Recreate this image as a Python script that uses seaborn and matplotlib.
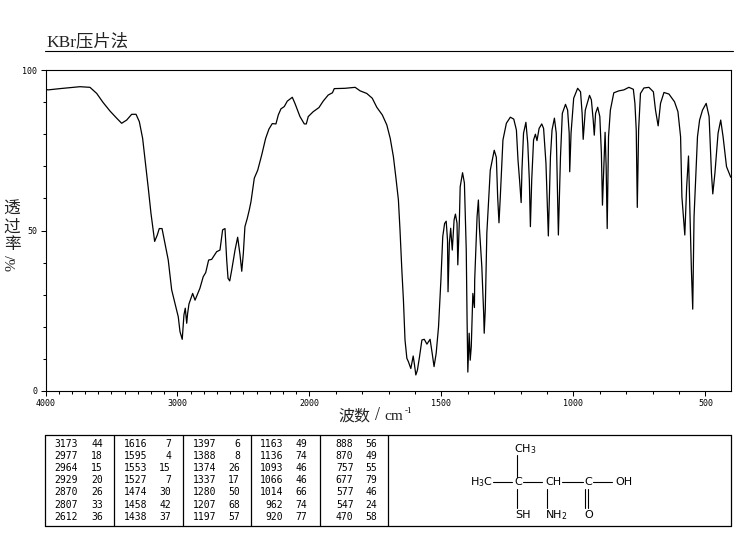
"""
Espectro IR (KBr) con tabla de picos y estructura
"""

import numpy as np
import pandas as pd
import matplotlib
matplotlib.use('Agg')
import matplotlib.pyplot as plt
from matplotlib.lines import Line2D
from matplotlib.ticker import FixedLocator, FixedFormatter
import seaborn as sns

W, H = 737, 539

# curva: numero de onda y transmitancia
wavenumber = [
    4000, 3981, 3890, 3739, 3663, 3612, 3564, 3511, 3461, 3423, 3385, 3347, 3314, 3289, 3264, 3241,
    3221, 3201, 3183, 3173, 3153, 3138, 3117, 3095, 3070, 3044, 3019, 2994, 2981, 2964, 2951, 2941,
    2930, 2923, 2913, 2885, 2867, 2830, 2805, 2786, 2764, 2741, 2703, 2678, 2658, 2640, 2627, 2617,
    2604, 2589, 2564, 2544, 2526, 2513, 2501, 2489, 2471, 2456, 2443, 2418, 2392, 2362, 2332, 2307,
    2282, 2254, 2236, 2216, 2191, 2168, 2130, 2110, 2072, 2039, 2024, 2009, 1986, 1964, 1948, 1929,
    1913, 1906, 1865, 1827, 1808, 1783, 1762, 1745, 1724, 1707, 1694, 1682, 1673, 1663, 1657, 1650,
    1644, 1638, 1631, 1625, 1616, 1607, 1602, 1597, 1591, 1583, 1574, 1565, 1555, 1543, 1535, 1528,
    1520, 1511, 1502, 1495, 1488, 1482, 1477, 1475, 1470, 1465, 1459, 1452, 1447, 1441, 1438, 1432,
    1429, 1420, 1413, 1406, 1403, 1400, 1395, 1391, 1387, 1381, 1375, 1374, 1365, 1360, 1356, 1347,
    1340, 1338, 1334, 1328, 1321, 1315, 1300, 1292, 1287, 1282, 1277, 1267, 1254, 1239, 1226, 1216,
    1210, 1204, 1198, 1195, 1189, 1180, 1173, 1167, 1163, 1158, 1151, 1144, 1138, 1130, 1120, 1113,
    1104, 1095, 1087, 1081, 1072, 1065, 1057, 1049, 1042, 1030, 1022, 1016, 1014, 1009, 999, 984,
    973, 967, 963, 955, 939, 932, 925, 921, 916, 908, 900, 894, 890, 885, 880, 876,
    872, 867, 860, 847, 828, 809, 790, 773, 767, 762, 758, 753, 746, 733, 714, 697,
    689, 679, 670, 657, 638, 617, 604, 594, 589, 578, 571, 564, 558, 553, 548, 543,
    530, 522, 511, 497, 486, 477, 472, 464, 452, 442, 433, 420, 404,
]
transmittance = [
    94.0, 93.8, 94.2, 94.8, 94.6, 92.7, 89.9, 87.2, 85.0, 83.4, 84.4, 86.2, 86.2, 83.9, 78.7, 70.4,
    63.1, 55.4, 49.6, 46.6, 48.6, 50.6, 50.6, 46.0, 40.8, 31.5, 27.3, 23.1, 18.5, 16.1, 23.7, 25.8,
    21.1, 24.2, 27.1, 30.4, 28.3, 32.0, 35.6, 36.9, 40.8, 41.0, 43.4, 43.9, 50.2, 50.6, 40.8, 35.1,
    34.3, 37.7, 43.9, 47.9, 42.4, 37.3, 42.9, 51.2, 53.8, 56.4, 59.0, 66.3, 68.8, 73.5, 78.7, 81.6,
    83.3, 83.2, 86.0, 87.9, 88.6, 90.3, 91.5, 89.6, 85.5, 83.2, 83.2, 85.5, 87.0, 88.3, 90.3, 92.2,
    92.9, 94.2, 94.3, 94.6, 93.5, 92.7, 91.2, 88.4, 86.0, 82.9, 78.7, 73.0, 66.8, 59.5, 50.2, 37.7,
    28.3, 15.9, 10.2, 9.1, 7.0, 10.9, 8.1, 5.0, 6.5, 10.7, 15.9, 16.1, 14.6, 16.1, 11.7, 7.6,
    11.7, 20.0, 34.6, 48.1, 52.2, 52.9, 47.0, 30.9, 46.0, 50.7, 43.9, 53.3, 55.1, 52.3, 39.3, 53.3,
    63.6, 68.0, 64.8, 43.9, 23.0, 5.9, 18.0, 9.6, 13.8, 30.4, 26.0, 34.6, 54.3, 59.5, 50.7, 38.7,
    24.2, 18.0, 25.2, 49.2, 59.5, 68.8, 75.0, 72.8, 60.5, 52.4, 60.5, 78.2, 83.4, 85.3, 84.7, 81.3,
    72.0, 65.7, 58.7, 68.8, 80.3, 83.7, 77.2, 65.7, 51.2, 65.7, 78.2, 80.0, 78.0, 81.8, 83.2, 81.8,
    70.9, 48.3, 73.0, 81.3, 85.0, 80.3, 48.6, 73.0, 86.5, 89.3, 87.5, 80.3, 68.3, 80.3, 91.2, 94.3,
    93.2, 86.5, 78.4, 87.5, 92.1, 90.7, 84.4, 79.7, 86.5, 88.4, 85.5, 74.0, 57.9, 68.8, 80.6, 69.9,
    50.6, 79.2, 87.5, 92.9, 93.5, 93.8, 94.6, 94.0, 89.6, 81.3, 57.2, 81.3, 92.7, 94.4, 94.6, 93.2,
    87.5, 82.6, 89.6, 93.0, 92.5, 90.1, 87.0, 79.2, 60.5, 48.6, 63.6, 73.2, 54.3, 37.7, 25.5, 54.3,
    79.2, 84.4, 87.5, 89.6, 85.5, 67.8, 61.4, 67.8, 80.3, 84.4, 79.2, 69.9, 66.6,
]

# tabla de picos, una lista por columna
peak_wn_cols = [
    [3173, 2977, 2964, 2929, 2870, 2807, 2612],
    [1616, 1595, 1553, 1527, 1474, 1458, 1438],
    [1397, 1388, 1374, 1337, 1280, 1207, 1197],
    [1163, 1136, 1093, 1066, 1014, 962, 920],
    [888, 870, 757, 677, 577, 547, 470],
]
peak_t_cols = [
    [44, 18, 15, 20, 26, 33, 36],
    [7, 4, 15, 7, 30, 42, 37],
    [6, 8, 26, 17, 50, 68, 57],
    [49, 74, 46, 46, 66, 74, 77],
    [56, 49, 55, 79, 46, 24, 58],
]

major_x = [4000, 3000, 2000, 1500, 1000, 500]
major_x_labels = ['4000', '3000', '2000', '1500', '1000', '500']
minor_x = [w for w in range(500, 4000, 100) if w not in major_x]
major_y = [0, 50, 100]
major_y_labels = ['0', '50', '100']


def forward(w):
    # escala partida: debajo de 2000 el eje va al doble
    w = np.asarray(w, dtype=float)
    return np.where(w >= 2000, w - 2000, (w - 2000) * 2)


def inverse(v):
    v = np.asarray(v, dtype=float)
    return np.where(v >= 0, v + 2000, v / 2 + 2000)


def px(x, y):
    return x / W, 1 - y / H


def fig_line(fig, x0, y0, x1, y1, lw=0.8):
    xa, ya = px(x0, y0)
    xb, yb = px(x1, y1)
    fig.add_artist(Line2D([xa, xb], [ya, yb], color='black', lw=lw))


def fig_text(fig, x, y, s, **kw):
    xa, ya = px(x, y)
    kw.setdefault('color', 'black')
    kw.setdefault('va', 'center')
    fig.text(xa, ya, s, **kw)


sns.set_theme(style='ticks')
plt.rcParams['font.family'] = ['DejaVu Sans', 'Noto Sans CJK SC']
plt.rcParams['mathtext.default'] = 'regular'

fig = plt.figure(figsize=(W / 100, H / 100), dpi=100)
ax = fig.add_axes([45.5 / W, 1 - 391 / H, 685.5 / W, 321 / H])

df = pd.DataFrame({'wn': wavenumber, 't': transmittance})
sns.lineplot(data=df, x='wn', y='t', sort=False, estimator=None, color='black', lw=0.9, ax=ax)

ax.set_xscale('function', functions=(forward, inverse))
ax.set_xlim(4000, 403)
ax.set_ylim(0, 100)
ax.set_xlabel('')
ax.set_ylabel('')

ax.set_xticks(major_x, major_x_labels)
ax.set_xticks(minor_x, minor=True)
ax.yaxis.set_major_locator(FixedLocator(major_y))
ax.yaxis.set_major_formatter(FixedFormatter(major_y_labels))
ax.yaxis.set_minor_locator(FixedLocator(list(range(0, 101, 10))))
ax.tick_params(which='major', bottom=True, left=True, length=3.6, width=0.75, pad=2.5,
               labelsize=6, colors='black')
ax.tick_params(which='minor', bottom=True, left=True, length=2, width=0.75, color='black')
for lab in ax.get_xticklabels() + ax.get_yticklabels():
    lab.set_family('DejaVu Sans Mono')
for sp in ax.spines.values():
    sp.set_visible(True)
    sp.set_color('black')
    sp.set_linewidth(0.8)

# titulo y subrayado
fig_text(fig, 46, 42, 'KBr压片法', fontsize=12.5, color='#222222',
         family=['Liberation Serif', 'Noto Sans CJK SC'])
fig_line(fig, 45, 50.5, 733, 50.5)

# etiquetas de ejes
fig_text(fig, 338, 416, '波数', fontsize=11.5, color='#222222', family='Noto Sans CJK SC')
fig_text(fig, 375, 416, '/', fontsize=13, color='#222222', family='Liberation Serif')
fig_text(fig, 384, 417, 'cm', fontsize=11, color='#222222', family='Liberation Serif')
fig_text(fig, 404.5, 411, '-1', fontsize=6.5, family='Liberation Serif')
for ypos, ch in zip([209, 227, 245], '透过率'):
    fig_text(fig, 12, ypos, ch, fontsize=12, ha='center', color='#222222',
             family='Noto Sans CJK SC')
fig_text(fig, 12, 263, '%/', fontsize=11, ha='center', rotation=90, color='#222222',
         family='Liberation Serif')

# marco de la tabla
for x0, y0, x1, y1 in [(45, 434.5, 731, 434.5), (45, 526, 731, 526), (45, 434.5, 45, 526), (731, 434.5, 731, 526)]:
    fig_line(fig, x0, y0, x1, y1, lw=0.9)
for xd in [114.5, 182.7, 251, 319.5, 388]:
    fig_line(fig, xd, 434.5, xd, 526, lw=0.9)

row_y = [443.7, 455.7, 468, 480, 492.3, 504.7, 517]
wn_right = [78, 147.5, 216, 283.5, 353.5]
t_right = [103, 171, 240, 307.5, 377.5]
for c in range(5):
    for r, ypos in enumerate(row_y):
        fig_text(fig, wn_right[c], ypos, str(peak_wn_cols[c][r]), fontsize=7, ha='right',
                 family='DejaVu Sans Mono')
        fig_text(fig, t_right[c], ypos, str(peak_t_cols[c][r]), fontsize=7, ha='right',
                 family='DejaVu Sans Mono')

# estructura
for s, xa, ya in [(r'CH$_3$', 514, 449), (r'H$_3$C', 470, 482), ('C', 514.5, 482), ('CH', 545, 482),
                  ('C', 584, 482), ('OH', 615, 482), ('SH', 515, 515), (r'NH$_2$', 545, 515), ('O', 584, 515)]:
    fig_text(fig, xa, ya, s, fontsize=8)
for x0, y0, x1, y1 in [(517, 455, 517, 477), (493, 482, 512, 482), (523, 482, 542, 482),
                       (562, 482, 583, 482), (593, 482, 612, 482), (517, 489, 517, 508),
                       (546.5, 489, 546.5, 508), (585, 489, 585, 508), (588, 489, 588, 508)]:
    fig_line(fig, x0, y0, x1, y1)

plt.savefig('out.png', dpi=100)
